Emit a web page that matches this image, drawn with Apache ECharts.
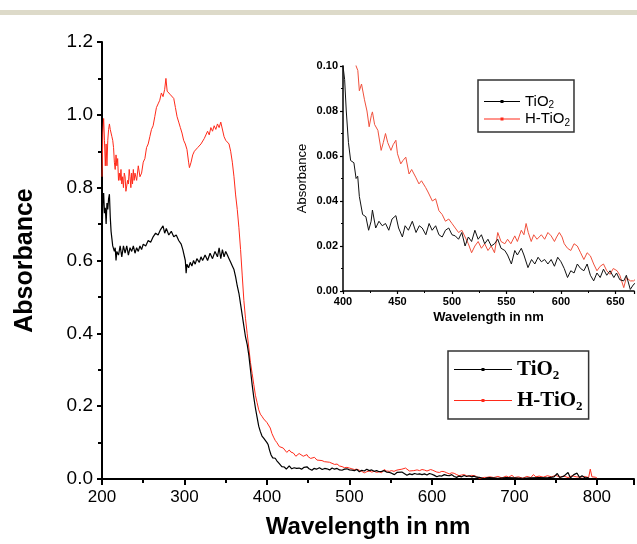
<!DOCTYPE html>
<html>
<head>
<meta charset="utf-8">
<script src="https://cdn.jsdelivr.net/npm/echarts@6/dist/echarts.min.js"></script>
<style>
html,body{margin:0;padding:0;background:#fff;}
#c{width:637px;height:544px;}
</style>
</head>
<body>
<div id="c"></div>
<script>
// ---------- data ----------
var tio2Wavelength = [200,201,202,203,204,205,206,207,208,209,210,211,212,213,214,215,216,217,218,220,222,224,226,228,230,232,234,236,238,240,242,244,246,248,250,253,256,259,262,265,268,271,274,276,278,281,284,287,290,293,296,298,300,301,302,303,305,307,309,311,313,315,318,320,322,325,328,331,334,337,340,342,344,346,348,350,352,354,356,358,360,362,364,366,368,370,372,374,376,378,380,382,384,386,388,390,392,394,396,398,400,401.5,403,405,407,410,412,413.5,415,418,421,423.5,425.8,427,430,433,436,439,442,445,448.5,451,454.5,457,460,463.6,467,470,472.7,476,479,481.8,485,488,491,494,497,500,503,506,509,512,515,518,521,524,527,530,533,536,539,542,545,548.5,551,554.5,557.6,560,563.6,566,569.7,573,576,579,582,585,588,591,594,597,600,603,606,609,612,615,618,621,624,627,630,633,636,639,642,645,648.5,651,654,657.6,660,663.6,666.7,670,680,690,700,710,720,730,740,748,752,755,760,765,768,772,776,779,782,786,790];
var tio2Abs = [0.66,0.76,0.785,0.73,0.745,0.70,0.758,0.74,0.77,0.782,0.72,0.68,0.66,0.64,0.645,0.625,0.635,0.60,0.625,0.615,0.64,0.61,0.64,0.62,0.64,0.615,0.635,0.625,0.64,0.62,0.635,0.625,0.64,0.63,0.645,0.64,0.655,0.65,0.665,0.675,0.67,0.685,0.695,0.675,0.688,0.67,0.68,0.665,0.67,0.655,0.645,0.63,0.625,0.60,0.565,0.59,0.58,0.595,0.585,0.60,0.59,0.605,0.595,0.61,0.60,0.615,0.60,0.62,0.605,0.625,0.61,0.635,0.605,0.63,0.61,0.625,0.615,0.605,0.595,0.585,0.575,0.555,0.53,0.51,0.48,0.45,0.42,0.39,0.37,0.34,0.30,0.26,0.225,0.195,0.17,0.145,0.13,0.118,0.112,0.108,0.100,0.094,0.080,0.066,0.058,0.057,0.050,0.051,0.042,0.034,0.033,0.027,0.031,0.036,0.028,0.031,0.029,0.030,0.027,0.032,0.0335,0.028,0.024,0.029,0.027,0.031,0.026,0.029,0.028,0.025,0.030,0.027,0.029,0.025,0.024,0.027,0.028,0.025,0.0245,0.023,0.026,0.020,0.024,0.022,0.027,0.023,0.025,0.021,0.023,0.020,0.021,0.023,0.019,0.018,0.016,0.012,0.018,0.016,0.019,0.016,0.0104,0.014,0.012,0.015,0.013,0.014,0.012,0.014,0.011,0.015,0.013,0.010,0.006,0.009,0.008,0.012,0.010,0.009,0.012,0.007,0.0045,0.008,0.006,0.0097,0.007,0.009,0.006,0.008,0.005,0.0045,0.007,0.0007,0.003,0.004,0.002,0.004,0.003,0.002,0.003,0.004,0.003,0.006,0.015,0.004,0.008,0.018,0.003,0.012,0.016,0.004,0.009,0.003,0.004];

var htio2Wavelength = [200,201,202,203,204,205,206,207,208,209,210,211,212,213,214,215,216,217,218,219,220,221,222,223,224,225,226,227,228,229,230,231,232,233,234,235,236,237,238,239,240,242,244,246,248,250,252,254,256,258,260,262,264,266,268,270,272,274,276,277.5,279,281,283,285,287,289,291,293,295,297,299,301,303,305,306,308,310,312,314,316,318,320,322,324,326,328,330,332,334,336,338,340,342,344,346,348,350,352,354,356,358,360,362,364,366,368,370,372,374,376,378,380,382,384,386,388,390,392,394,396,398,400,402,404,406,408,410,412,413.6,415,417,419.7,422,424,426,427,429,432,435,437,439,441,444,446,448.5,450,453,455,457.6,460.6,463,466.7,469.7,472,475.8,478,482,485,488,491,494,497,500,503,506,509,512,515,518,521,524,527,530,533,536,539,542,545,548.5,551,554,557.6,560,563.6,566,568,570,572.7,575,578,582,585,588,591,594,596,598.5,601,603,606,609,612,615,618,621,624,627,630,633,636,639,642,645,648,651.5,654,657.6,660,663.6,666.7,670,675,680,685,690,693,697,700,705,710,715,720,723,726,730,735,740,745,750,755,760,765,770,775,780,785,790,792,794,798,800];
var htio2Abs = [0.83,0.95,0.99,0.93,0.86,0.92,0.86,0.93,0.96,0.975,0.96,0.95,0.94,0.93,0.91,0.87,0.85,0.89,0.86,0.88,0.82,0.84,0.82,0.85,0.81,0.83,0.80,0.84,0.83,0.79,0.79,0.82,0.81,0.85,0.83,0.80,0.84,0.81,0.85,0.82,0.84,0.82,0.86,0.83,0.84,0.87,0.88,0.91,0.92,0.94,0.96,0.97,0.995,1.02,1.03,1.04,1.06,1.05,1.07,1.10,1.065,1.07,1.055,1.06,1.045,1.02,0.995,0.98,0.965,0.95,0.93,0.92,0.905,0.87,0.855,0.87,0.89,0.90,0.895,0.91,0.905,0.92,0.915,0.935,0.93,0.955,0.945,0.965,0.955,0.97,0.96,0.975,0.965,0.98,0.985,0.94,0.93,0.935,0.92,0.90,0.87,0.83,0.78,0.74,0.69,0.63,0.56,0.49,0.44,0.40,0.36,0.32,0.29,0.26,0.23,0.21,0.19,0.178,0.172,0.165,0.16,0.155,0.15,0.14,0.125,0.115,0.106,0.100,0.098,0.089,0.092,0.085,0.080,0.073,0.078,0.0796,0.074,0.0714,0.0625,0.066,0.070,0.066,0.0625,0.065,0.067,0.061,0.0565,0.058,0.0595,0.052,0.054,0.0506,0.0476,0.049,0.046,0.044,0.040,0.041,0.0357,0.034,0.031,0.032,0.030,0.028,0.026,0.027,0.024,0.021,0.017,0.020,0.022,0.019,0.021,0.018,0.020,0.017,0.026,0.022,0.021,0.023,0.021,0.0245,0.022,0.027,0.025,0.030,0.026,0.022,0.025,0.023,0.025,0.023,0.026,0.0245,0.022,0.024,0.026,0.024,0.021,0.019,0.018,0.021,0.020,0.017,0.014,0.017,0.0156,0.012,0.009,0.011,0.012,0.009,0.0074,0.010,0.009,0.007,0.0015,0.006,0.0045,0.0045,0.006,0.004,0.007,0.003,0.008,0.005,0.010,0.004,0.006,0.002,0.007,0.004,0.012,0.006,0.008,0.005,0.009,0.006,0.010,0.005,0.008,0.004,0.009,0.006,0.005,0.007,0.004,0.027,0.006,0.005,0.003];

var seriesNames = ['TiO2', 'H-TiO2'];
var mainXTicks = [200, 300, 400, 500, 600, 700, 800];
var mainYTicks = [0.0, 0.2, 0.4, 0.6, 0.8, 1.0, 1.2];
var insetXTicks = [400, 450, 500, 550, 600, 650];
var insetYTicks = [0.00, 0.02, 0.04, 0.06, 0.08, 0.10];

function pairs(xs, ys) { return xs.map(function (x, i) { return [x, ys[i]]; }); }
var tio2Data = pairs(tio2Wavelength, tio2Abs);
var htio2Data = pairs(htio2Wavelength, htio2Abs);

// ---------- chart ----------
var chart = echarts.init(document.getElementById('c'), null, {renderer: 'canvas'});
var SANS = '"Liberation Sans", Arial, sans-serif';
var SERIF = '"Liberation Serif", "Times New Roman", serif';

function legendFmt(name) {
  return name === 'TiO2' ? '{m|TiO}{s|2}' : '{m|H-TiO}{s|2}';
}
var iconPath = 'path://M0,1.5h58v1H0zM27.5,0.5h3v3h-3z';

var option = {
  animation: false,
  backgroundColor: '#ffffff',
  graphic: [
    {type: 'rect', shape: {x: 0, y: 10, width: 637, height: 5}, style: {fill: '#dddac9'}, silent: true}
  ],
  grid: [
    {left: 102, top: 42, width: 535, height: 438},
    {left: 343, top: 66, width: 294, height: 225}
  ],
  legend: [
    {
      data: seriesNames, orient: 'vertical', left: 448, top: 351,
      padding: [8, 6, 6, 6], itemGap: 8, itemWidth: 58, itemHeight: 4,
      borderColor: '#333', borderWidth: 1.5,
      icon: iconPath,
      formatter: legendFmt,
      selectedMode: false,
      textStyle: {
        rich: {
          m: {fontFamily: SERIF, fontWeight: 'bold', fontSize: 21, color: '#000', lineHeight: 22},
          s: {fontFamily: SERIF, fontWeight: 'bold', fontSize: 13, color: '#000', padding: [12, 0, 0, 0]}
        }
      }
    },
    {
      data: seriesNames, orient: 'vertical', left: 478, top: 80,
      padding: [14, 4, 4, 6], itemGap: 1, itemWidth: 36, itemHeight: 4,
      borderColor: '#333', borderWidth: 1.5,
      icon: 'path://M0,1.5h36v1H0zM16.5,0.5h3v3h-3z',
      formatter: legendFmt,
      selectedMode: false,
      textStyle: {
        rich: {
          m: {fontFamily: SANS, fontSize: 15, color: '#000', lineHeight: 16},
          s: {fontFamily: SANS, fontSize: 10, color: '#000', padding: [8, 0, 0, 0]}
        }
      }
    }
  ],
  xAxis: [
    {
      type: 'value', gridIndex: 0, min: 200, max: 845, interval: 100,
      name: 'Wavelength in nm', nameLocation: 'middle', nameGap: 36,
      nameTextStyle: {fontFamily: SANS, fontWeight: 'bold', fontSize: 24, color: '#000'},
      axisLine: {lineStyle: {color: '#000', width: 2}},
      axisTick: {show: true, inside: false, length: 6, lineStyle: {color: '#000', width: 2}},
      minorTick: {show: true, splitNumber: 2, length: 4, lineStyle: {color: '#000', width: 2}},
      splitLine: {show: false},
      axisLabel: {fontFamily: SANS, fontSize: 17, color: '#000', margin: 10,
        formatter: function (v) { return mainXTicks.indexOf(v) >= 0 ? String(v) : ''; }}
    },
    {
      type: 'value', gridIndex: 1, min: 400, max: 667, interval: 50,
      name: 'Wavelength in nm', nameLocation: 'middle', nameGap: 20,
      nameTextStyle: {fontFamily: SANS, fontWeight: 'bold', fontSize: 13, color: '#000'},
      axisLine: {lineStyle: {color: '#000', width: 1.5}},
      axisTick: {show: true, inside: false, length: 3, lineStyle: {color: '#000', width: 1.2}},
      minorTick: {show: true, splitNumber: 2, length: 2, lineStyle: {color: '#000', width: 1}},
      splitLine: {show: false},
      axisLabel: {fontFamily: SANS, fontWeight: 'bold', fontSize: 11, color: '#000', margin: 5,
        formatter: function (v) { return insetXTicks.indexOf(v) >= 0 ? String(v) : ''; }}
    }
  ],
  yAxis: [
    {
      type: 'value', gridIndex: 0, min: 0, max: 1.2, interval: 0.2,
      name: 'Absorbance', nameLocation: 'middle', nameGap: 64,
      nameTextStyle: {fontFamily: SANS, fontWeight: 'bold', fontSize: 25, color: '#000'},
      axisLine: {show: true, lineStyle: {color: '#000', width: 2}},
      axisTick: {show: true, inside: false, length: 5, lineStyle: {color: '#000', width: 2}},
      minorTick: {show: true, splitNumber: 2, length: 4, lineStyle: {color: '#000', width: 2}},
      splitLine: {show: false},
      axisLabel: {fontFamily: SANS, fontSize: 19, color: '#000', margin: 9,
        formatter: function (v) { return v.toFixed(1); }}
    },
    {
      type: 'value', gridIndex: 1, min: 0, max: 0.1, interval: 0.02,
      name: 'Absorbance', nameLocation: 'middle', nameGap: 34,
      nameTextStyle: {fontFamily: SANS, fontSize: 13, color: '#000'},
      axisLine: {show: true, lineStyle: {color: '#000', width: 1.5}},
      axisTick: {show: true, inside: false, length: 3, lineStyle: {color: '#000', width: 1.2}},
      minorTick: {show: true, splitNumber: 2, length: 2, lineStyle: {color: '#000', width: 1}},
      splitLine: {show: false},
      axisLabel: {fontFamily: SANS, fontWeight: 'bold', fontSize: 11, color: '#000', margin: 5,
        formatter: function (v) { return v.toFixed(2); }}
    }
  ],
  series: [
    {name: 'TiO2', type: 'line', xAxisIndex: 0, yAxisIndex: 0, data: tio2Data, showSymbol: false, symbol: 'none',
      color: '#000', lineStyle: {color: '#000', width: 1.2}, clip: true, z: 3},
    {name: 'H-TiO2', type: 'line', xAxisIndex: 0, yAxisIndex: 0, data: htio2Data, showSymbol: false, symbol: 'none',
      color: '#ff2a1a', lineStyle: {color: '#ff2a1a', width: 1}, clip: true, z: 2},
    {name: 'TiO2', type: 'line', xAxisIndex: 1, yAxisIndex: 1, data: tio2Data, showSymbol: false, symbol: 'none',
      color: '#000', lineStyle: {color: '#111', width: 1}, clip: true, z: 3},
    {name: 'H-TiO2', type: 'line', xAxisIndex: 1, yAxisIndex: 1, data: htio2Data, showSymbol: false, symbol: 'none',
      color: '#ff2a1a', lineStyle: {color: '#f0503c', width: 1}, clip: true, z: 2}
  ]
};
chart.setOption(option);
</script>
</body>
</html>
